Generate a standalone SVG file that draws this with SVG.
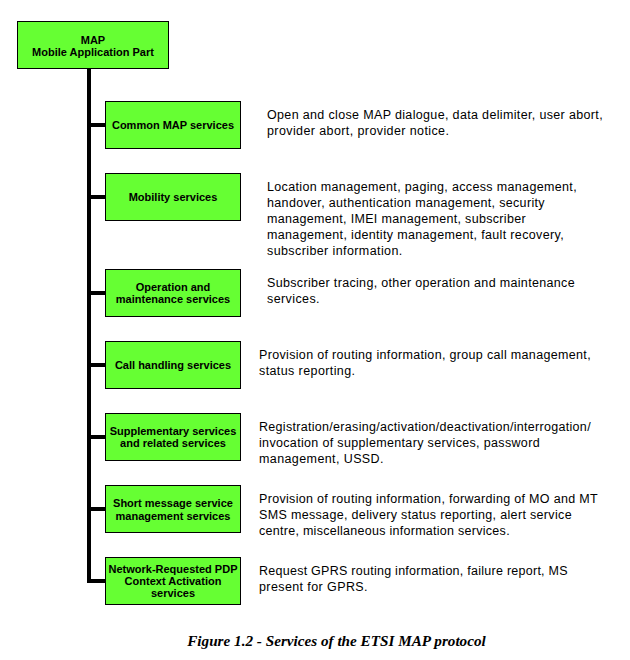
<svg xmlns="http://www.w3.org/2000/svg" width="630" height="660" viewBox="0 0 630 660">
<style>
.box{fill:#66FF33;stroke:#000;stroke-width:1}
.bl{font-family:"Liberation Sans",Arial,sans-serif;font-size:11px;font-weight:bold;text-anchor:middle;fill:#000}
.d{font-family:"Liberation Sans",Arial,sans-serif;font-size:12.5px;letter-spacing:0.4px;fill:#000}
.cap{font-family:"Liberation Serif","Times New Roman",serif;font-size:15.2px;font-weight:bold;font-style:italic;text-anchor:middle}
</style>
<rect width="630" height="660" fill="#fff"/>
<g id="connectors" stroke="#000" stroke-width="4" fill="none">
<line x1="89" y1="68" x2="89" y2="583"/>
<line x1="89" y1="125" x2="105" y2="125"/>
<line x1="89" y1="197" x2="105" y2="197"/>
<line x1="89" y1="293" x2="105" y2="293"/>
<line x1="89" y1="365" x2="105" y2="365"/>
<line x1="89" y1="437" x2="105" y2="437"/>
<line x1="89" y1="509" x2="105" y2="509"/>
<line x1="89" y1="581" x2="105" y2="581"/>
</g>
<g id="map">
<rect class="box" x="17.5" y="21.5" width="151" height="47"/>
<text class="bl" x="93" y="44">MAP</text>
<text class="bl" x="93" y="56">Mobile Application Part</text>
</g>
<g id="common">
<rect class="box" x="105.5" y="101.5" width="135" height="47"/>
<text class="bl" x="173" y="129">Common MAP services</text>
<text class="d" x="267" y="119" textLength="336" lengthAdjust="spacing">Open and close MAP dialogue, data delimiter, user abort,</text>
<text class="d" x="267" y="135">provider abort, provider notice.</text>
</g>
<g id="mobility">
<rect class="box" x="105.5" y="173.5" width="135" height="47"/>
<text class="bl" x="173" y="201">Mobility services</text>
<text class="d" x="267" y="191" textLength="310" lengthAdjust="spacing">Location management, paging, access management,</text>
<text class="d" x="267" y="207" textLength="278" lengthAdjust="spacing">handover, authentication management, security</text>
<text class="d" x="267" y="223" textLength="259" lengthAdjust="spacing">management, IMEI management, subscriber</text>
<text class="d" x="267" y="239" textLength="297" lengthAdjust="spacing">management, identity management, fault recovery,</text>
<text class="d" x="267" y="255">subscriber information.</text>
</g>
<g id="operation">
<rect class="box" x="105.5" y="269.5" width="135" height="47"/>
<text class="bl" x="173" y="291">Operation and</text>
<text class="bl" x="173" y="303">maintenance services</text>
<text class="d" x="267" y="287" textLength="308" lengthAdjust="spacing">Subscriber tracing, other operation and maintenance</text>
<text class="d" x="267" y="303">services.</text>
</g>
<g id="call">
<rect class="box" x="105.5" y="341.5" width="135" height="47"/>
<text class="bl" x="173" y="369">Call handling services</text>
<text class="d" x="259" y="359" textLength="332" lengthAdjust="spacing">Provision of routing information, group call management,</text>
<text class="d" x="259" y="375">status reporting.</text>
</g>
<g id="supplementary">
<rect class="box" x="105.5" y="413.5" width="135" height="47"/>
<text class="bl" x="173" y="435">Supplementary services</text>
<text class="bl" x="173" y="447">and related services</text>
<text class="d" x="259" y="431" textLength="332" lengthAdjust="spacing">Registration/erasing/activation/deactivation/interrogation/</text>
<text class="d" x="259" y="447" textLength="281" lengthAdjust="spacing">invocation of supplementary services, password</text>
<text class="d" x="259" y="463">management, USSD.</text>
</g>
<g id="sms">
<rect class="box" x="105.5" y="485.5" width="135" height="47"/>
<text class="bl" x="173" y="507">Short message service</text>
<text class="bl" x="173" y="520">management services</text>
<text class="d" x="259" y="503" textLength="339" lengthAdjust="spacing">Provision of routing information, forwarding of MO and MT</text>
<text class="d" x="259" y="519" textLength="313" lengthAdjust="spacing">SMS message, delivery status reporting, alert service</text>
<text class="d" x="259" y="535" textLength="251" lengthAdjust="spacing">centre, miscellaneous information services.</text>
</g>
<g id="pdp">
<rect class="box" x="105.5" y="557.5" width="135" height="47"/>
<text class="bl" x="173" y="573">Network-Requested PDP</text>
<text class="bl" x="173" y="585">Context Activation</text>
<text class="bl" x="173" y="597">services</text>
<text class="d" x="259" y="575" textLength="309" lengthAdjust="spacing">Request GPRS routing information, failure report, MS</text>
<text class="d" x="259" y="591">present for GPRS.</text>
</g>
<text class="cap" x="336.5" y="646">Figure 1.2 - Services of the ETSI MAP protocol</text>
</svg>
